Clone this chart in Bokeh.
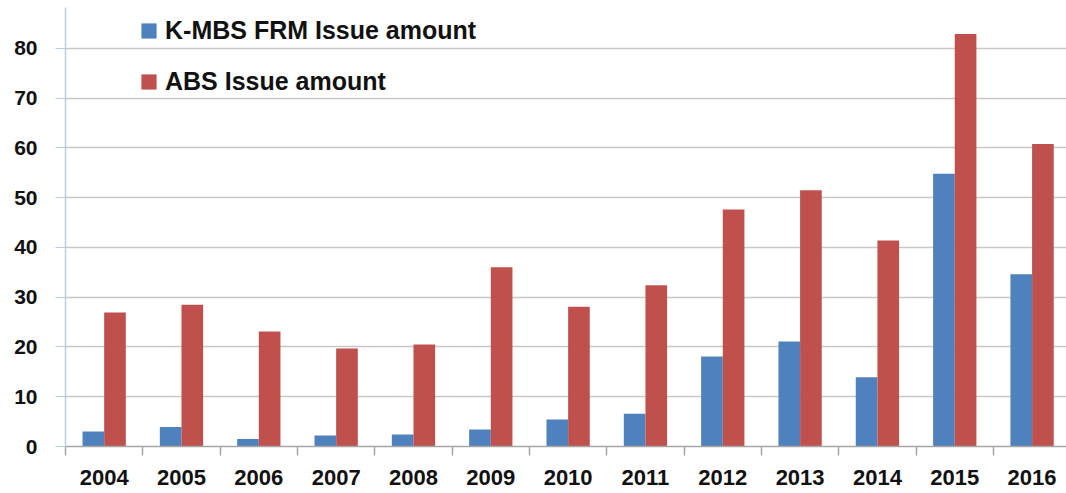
from bokeh.plotting import figure
from bokeh.models import ColumnDataSource, FixedTicker, Range1d, Legend, LegendItem, LinearAxis
from bokeh.transform import dodge
from bokeh.embed import file_html
from bokeh.resources import INLINE

years = ["2004", "2005", "2006", "2007", "2008", "2009", "2010",
         "2011", "2012", "2013", "2014", "2015", "2016"]
kmbs = [3.0, 3.9, 1.5, 2.2, 2.4, 3.4, 5.4, 6.6, 18.1, 21.1, 13.9, 54.8, 34.6]
abs_amt = [26.9, 28.5, 23.1, 19.7, 20.5, 36.0, 28.1, 32.4, 47.6, 51.5, 41.4, 82.9, 60.8]
y_ticks = [0, 10, 20, 30, 40, 50, 60, 70, 80]

centers = [i + 0.5 for i in range(len(years))]
bounds = [float(i) for i in range(len(years) + 1)]

src = ColumnDataSource(dict(x=centers, kmbs=kmbs, abs=abs_amt, year=years))

FONT = "Liberation Sans"

p = figure(width=1066, height=493, output_backend="svg", toolbar_location=None,
           x_range=Range1d(0, 12.945), y_range=Range1d(0, 88.2),
           min_border_left=65, min_border_right=0, min_border_top=7, min_border_bottom=47,
           x_axis_location=None, y_axis_location=None)
p.outline_line_color = None
p.background_fill_color = "white"

bw = 0.28
r1 = p.vbar(x=dodge("x", -bw / 2, range=p.x_range), top="kmbs", width=bw, source=src,
            fill_color="#4f81bd", line_color=None)
r2 = p.vbar(x=dodge("x", bw / 2, range=p.x_range), top="abs", width=bw, source=src,
            fill_color="#c0504d", line_color=None)

# y axis
yax = LinearAxis(ticker=FixedTicker(ticks=y_ticks, minor_ticks=[]))
yax.axis_line_color = "#b9cde5"
yax.axis_line_width = 1.5
yax.major_tick_line_color = "#b9cde5"
yax.major_tick_out = 10
yax.major_tick_in = 0
yax.minor_tick_line_color = None
yax.major_label_standoff = 18
yax.major_label_text_font = FONT
yax.major_label_text_font_size = "21px"
yax.major_label_text_font_style = "bold"
yax.major_label_text_color = "#111111"
p.add_layout(yax, "left")

# x axis
xax = LinearAxis(ticker=FixedTicker(ticks=centers, minor_ticks=bounds))
xax.major_label_overrides = {c: y for c, y in zip(centers, years)}
xax.axis_line_color = "#a6a6a6"
xax.axis_line_width = 1.5
xax.major_tick_line_color = None
xax.major_tick_out = 0
xax.major_tick_in = 0
xax.minor_tick_line_color = "#a6a6a6"
xax.minor_tick_line_width = 1.5
xax.minor_tick_out = 9
xax.minor_tick_in = 0
xax.major_label_standoff = 14
xax.major_label_text_font = FONT
xax.major_label_text_font_size = "22px"
xax.major_label_text_font_style = "bold"
xax.major_label_text_color = "#111111"
p.add_layout(xax, "below")

p.ygrid.ticker = FixedTicker(ticks=y_ticks)
p.ygrid.grid_line_color = "#c8c8c8"
p.ygrid.grid_line_width = 1.5
p.xgrid.grid_line_color = None

legend = Legend(items=[LegendItem(label="K-MBS FRM Issue amount", renderers=[r1]),
                       LegendItem(label="ABS Issue amount", renderers=[r2])],
                location=(74, 350))
legend.border_line_color = None
legend.background_fill_alpha = 0
legend.padding = 0
legend.margin = 0
legend.glyph_width = 19
legend.glyph_height = 19
legend.label_standoff = 7
legend.label_height = 26
legend.spacing = 22
legend.label_text_font = FONT
legend.label_text_font_size = "25px"
legend.label_text_font_style = "bold"
legend.label_text_color = "#111111"
p.add_layout(legend, "center")

open("out.html", "w").write(file_html(p, INLINE))
